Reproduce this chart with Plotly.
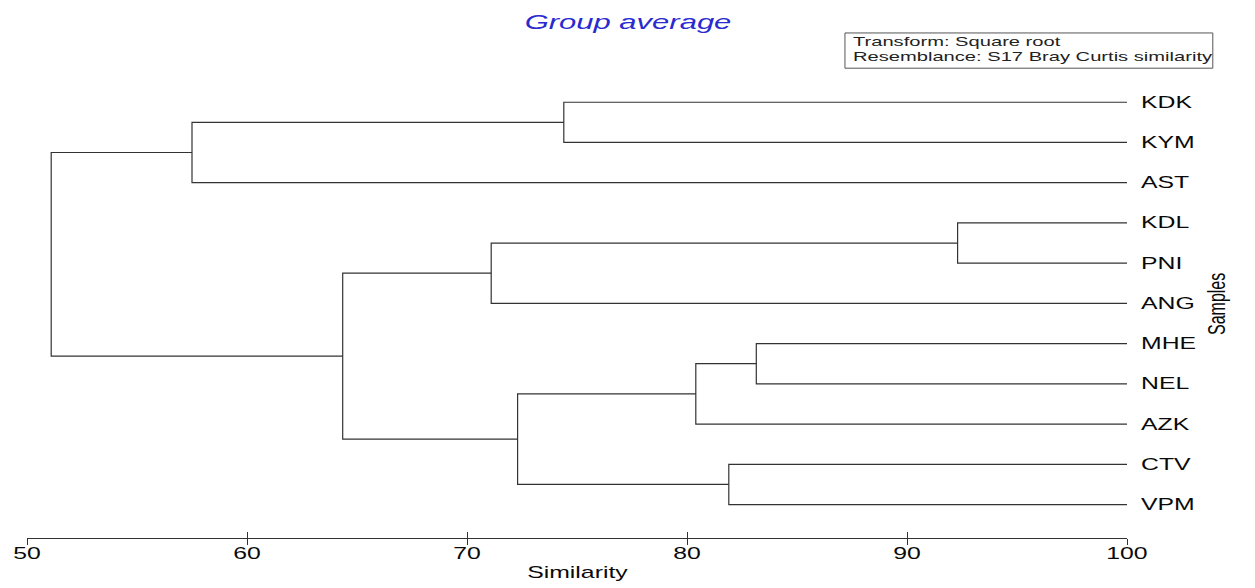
import plotly.graph_objects as go

# Samples, top to bottom as they appear on the dendrogram
leaves = ["KDK", "KYM", "AST", "KDL", "PNI", "ANG", "MHE", "NEL", "AZK", "CTV", "VPM"]

# Group-average agglomeration: cluster C<k> joins join_a[k-1] and join_b[k-1]
join_a = ["KDK", "C1", "KDL", "C3", "MHE", "C5", "CTV", "C6", "C4", "C2"]
join_b = ["KYM", "AST", "PNI", "ANG", "NEL", "AZK", "VPM", "C7", "C8", "C9"]
join_sim = [74.4, 57.5, 92.3, 71.1, 83.15, 80.4, 81.9, 72.3, 64.35, 51.1]

x_ticks = [50, 60, 70, 80, 90, 100]

FONT = "Liberation Sans, Arial, sans-serif"
LINE = "#333333"
INK = "#0a0a0a"

# node positions: (similarity, vertical slot); leaves sit at 100 %
pos = {name: (100.0, len(leaves) - 1 - i) for i, name in enumerate(leaves)}
xs, ys = [], []
for k, (a, b, s) in enumerate(zip(join_a, join_b, join_sim), start=1):
    xa, ya = pos[a]
    xb, yb = pos[b]
    xs += [xa, s, s, xb, None]
    ys += [ya, ya, yb, yb, None]
    pos[f"C{k}"] = (s, (ya + yb) / 2)

fig = go.Figure()
fig.add_trace(go.Scatter(
    x=xs, y=ys, mode="lines",
    line=dict(color=LINE, width=1.2),
    hoverinfo="skip", showlegend=False,
))
# carrier for the lower half of the crossing tick marks
fig.add_trace(go.Scatter(
    x=[x_ticks[0], x_ticks[-1]], y=[0, 0], xaxis="x2", mode="lines",
    line=dict(width=0), opacity=0, hoverinfo="skip", showlegend=False,
))

for i, name in enumerate(leaves):
    fig.add_annotation(
        x=100, y=len(leaves) - 1 - i, xref="x", yref="y",
        text=name, showarrow=False, xanchor="left", yanchor="middle",
        align="left", xshift=12,
        font=dict(family=FONT, size=16, color=INK),
    )

fig.add_annotation(
    x=0.5, y=-0.0735, xref="paper", yref="paper", text="Similarity",
    showarrow=False, xanchor="center", yanchor="middle",
    font=dict(family=FONT, size=16, color=INK),
)
fig.add_annotation(
    x=1.0818, y=0.4916, xref="paper", yref="paper", text="Samples",
    showarrow=False, textangle=-90, xanchor="center", yanchor="middle",
    font=dict(family=FONT, size=16, color=INK),
)

# resemblance / transform note
fig.add_shape(
    type="rect", xref="paper", yref="paper",
    x0=0.7436, x1=1.078, y0=0.987, y1=1.061,
    line=dict(color="#555555", width=1), fillcolor="white",
)
fig.add_annotation(
    x=0.7491, y=1.043, xref="paper", yref="paper", text="Transform: Square root",
    showarrow=False, xanchor="left", yanchor="middle", align="left",
    font=dict(family=FONT, size=13, color="#222222"),
)
fig.add_annotation(
    x=0.7491, y=1.011, xref="paper", yref="paper",
    text="Resemblance: S17 Bray Curtis similarity",
    showarrow=False, xanchor="left", yanchor="middle", align="left",
    font=dict(family=FONT, size=13, color="#222222"),
)

fig.update_layout(
    width=1255, height=588, autosize=False,
    margin=dict(l=27, r=128, t=62, b=50),
    paper_bgcolor="white", plot_bgcolor="white",
    title=dict(
        text="Group average", x=0.5004, xref="container", xanchor="center",
        y=0.962, yref="container", yanchor="middle",
        font=dict(family=FONT, size=20, color="#2a2ad0", style="italic"),
    ),
    xaxis=dict(
        range=[50, 100], tickvals=x_ticks, ticks="inside", ticklen=6,
        tickcolor=LINE, tickwidth=1, showline=True, linecolor=LINE, linewidth=1,
        showgrid=False, zeroline=False, ticklabelstandoff=1,
        tickfont=dict(family=FONT, size=16, color=INK),
    ),
    xaxis2=dict(
        range=[50, 100], tickvals=x_ticks, ticks="outside", ticklen=6,
        tickcolor=LINE, tickwidth=1, showline=False, showgrid=False,
        zeroline=False, showticklabels=False, overlaying="x", side="bottom",
        anchor="y",
    ),
    yaxis=dict(range=[-0.832, 11], visible=False),
)

# the lettering of this chart is set wide: stretch every text run horizontally
widen_js = """
var gd = document.getElementById('{plot_id}');
var S = 1.55;
function widen() {
  var root = gd.querySelector('svg.main-svg');
  gd.querySelectorAll('text').forEach(function (t) {
    if (t.getAttribute('data-wide') || !t.textContent.trim()) return;
    var r = t.getBoundingClientRect();
    if (!r.width) return;
    var p = t.parentNode;
    var ctm = t.getScreenCTM();
    var rotated = Math.abs(ctm.b) > 1e-6;
    var anchor = t.getAttribute('text-anchor') || 'start';
    var cx;
    if (!rotated && anchor === 'start') cx = r.left;
    else if (!rotated && anchor === 'end') cx = r.right;
    else cx = r.left + r.width / 2;
    var M = p.getScreenCTM();
    var T = root.createSVGMatrix().translate(cx, 0).scaleNonUniform(S, 1).translate(-cx, 0);
    var W = M.inverse().multiply(T).multiply(M);
    var g = document.createElementNS('http://www.w3.org/2000/svg', 'g');
    g.transform.baseVal.initialize(root.createSVGTransformFromMatrix(W));
    p.insertBefore(g, t);
    g.appendChild(t);
    t.setAttribute('data-wide', '1');
  });
}
widen();
"""

fig.write_html("out.html", config={"displayModeBar": False, "responsive": False},
               post_script=widen_js)
